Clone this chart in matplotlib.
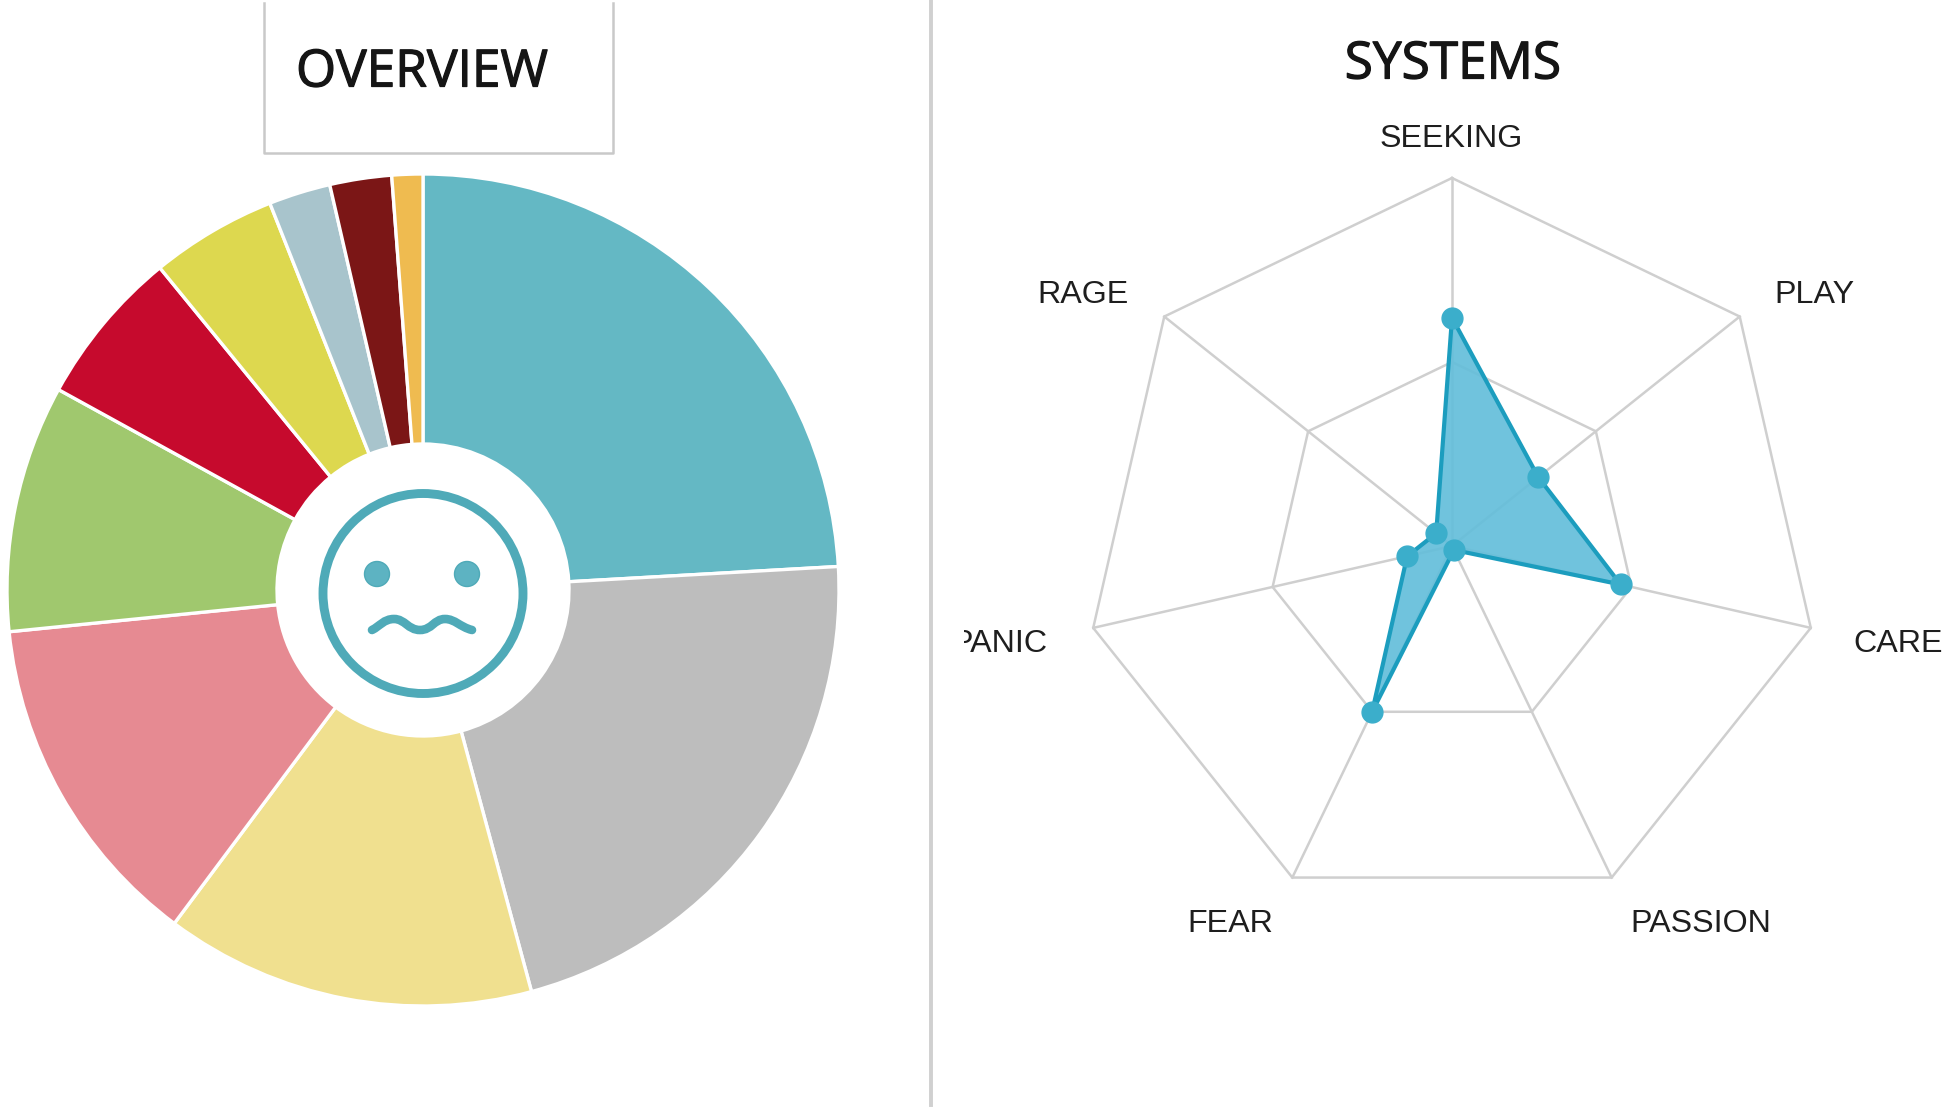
import numpy as np
import matplotlib
matplotlib.use("Agg")
import matplotlib.pyplot as plt
import matplotlib.patheffects as pe
from matplotlib.path import Path
from matplotlib.patches import PathPatch, Circle
from matplotlib.transforms import Bbox

# ---- data ----
overview_values = [24.1, 21.7, 14.4, 13.2, 9.6, 6.1, 4.9, 2.4, 2.4, 1.2]
overview_colors = ["#64B8C4", "#BDBDBD", "#F0E08F", "#E68A92", "#A0C86E",
                   "#C60A2D", "#DDD84F", "#A8C4CC", "#7B1616", "#EFBB50"]
systems_labels = ["SEEKING", "PLAY", "CARE", "PASSION", "FEAR", "PANIC", "RAGE"]
systems_values = [0.62, 0.30, 0.47, 0.012, 0.50, 0.125, 0.055]
ring_levels = [0.5, 1.0]

W, H = 1950, 1109
fig = plt.figure(figsize=(W / 100, H / 100), dpi=100, facecolor="white")


def box(cx, cy, r):
    return [(cx - r) / W, (H - cy - r) / H, 2 * r / W, 2 * r / H]


# ---- donut ----
ax_pie = fig.add_axes(box(423, 590, 416))
wedges, _ = ax_pie.pie(overview_values, colors=overview_colors, startangle=90,
                       counterclock=False, radius=1,
                       wedgeprops=dict(width=1 - 146 / 416, edgecolor="white",
                                       linewidth=2.4, clip_on=False))
ax_pie.set_xlim(-1, 1)
ax_pie.set_ylim(-1, 1)

# ---- radar ----
ax_r = fig.add_axes(box(1452, 546, 368), projection="polar")
ax_r.set_theta_zero_location("N")
ax_r.set_theta_direction(-1)
ax_r.set_ylim(0, 1)
ax_r.grid(False)
ax_r.set_xticks([])
ax_r.set_yticks([])
ax_r.spines["polar"].set_visible(False)
ax_r.patch.set_alpha(0)

n = len(systems_labels)
theta = np.arange(n) * 2 * np.pi / n
grid_c = "#CFCFCF"
for lev in ring_levels:
    ax_r.plot(np.r_[theta, theta[0]], [lev] * (n + 1), color=grid_c, lw=1.8,
              clip_on=False, zorder=1)
for t in theta:
    ax_r.plot([t, t], [0, 1], color=grid_c, lw=1.8, clip_on=False, zorder=1)

th_c = np.r_[theta, theta[0]]
val_c = np.r_[systems_values, systems_values[0]]
ax_r.fill(th_c, val_c, facecolor="#64BEDA", alpha=0.92, edgecolor="none", zorder=2)
ax_r.plot(th_c, val_c, color="#1C9DBE", lw=3.0, zorder=3, solid_joinstyle="round")
ax_r.plot(theta, systems_values, ls="none", marker="o", ms=15,
          mfc="#3BAECB", mec="#3BAECB", zorder=4, clip_on=False)

# ---- overlay in image pixels: titles, frame, divider, icon, labels ----
ov = fig.add_axes([0, 0, 1, 1], zorder=10)
ov.set_xlim(0, W)
ov.set_ylim(H, 0)
ov.axis("off")
ov.patch.set_alpha(0)

ov.plot([264, 264, 613, 613], [3, 153, 153, 3], color="#C9C9C9", lw=1.8)
ov.plot([931, 931], [0, 1105], color="#D0D0D0", lw=2.8)

title_font = "Open Sans"
title_stroke = [pe.withStroke(linewidth=0.9, foreground="#151515")]
ov.text(422, 73, "OVERVIEW", ha="center", va="center", fontsize=37,
        family=title_font, color="#151515", path_effects=title_stroke)
ov.text(1453, 65, "SYSTEMS", ha="center", va="center", fontsize=37,
        family=title_font, color="#151515", path_effects=title_stroke)

# face icon
face_c = "#4FAAB8"
ov.add_patch(Circle((423, 593.5), 100, fill=False, ec=face_c, lw=6.4))
ov.add_patch(Circle((377, 574), 12.5, fc="#5DB3C2", ec=face_c, lw=1))
ov.add_patch(Circle((467, 574), 12.5, fc="#5DB3C2", ec=face_c, lw=1))
mouth = Path([(372, 630), (380, 626), (384, 619), (394, 619),
              (405, 619), (408, 630), (420, 630),
              (432, 630), (434, 619), (445, 619),
              (455, 619), (460, 627), (472, 630)],
             [Path.MOVETO] + [Path.CURVE4] * 12)
ov.add_patch(PathPatch(mouth, fill=False, ec=face_c, lw=6.2, capstyle="round"))

# radar labels
label_pos = {"SEEKING": (1451, 139, "center"), "PLAY": (1814, 295, "center"),
             "CARE": (1898, 644, "center"), "PASSION": (1701, 924, "center"),
             "FEAR": (1230, 924, "center"), "PANIC": (1047, 644, "right"),
             "RAGE": (1083, 295, "center")}
for name in systems_labels:
    x, y, ha = label_pos[name]
    t = ov.text(x, y, name, ha=ha, va="center", fontsize=23.2,
                family="Liberation Sans", color="#1E1E1E")
    if name == "PANIC":
        t.set_clip_box(Bbox([[964, 0], [W, H]]))
        t.set_clip_on(True)

fig.savefig("out.png", dpi=100, facecolor="white")
